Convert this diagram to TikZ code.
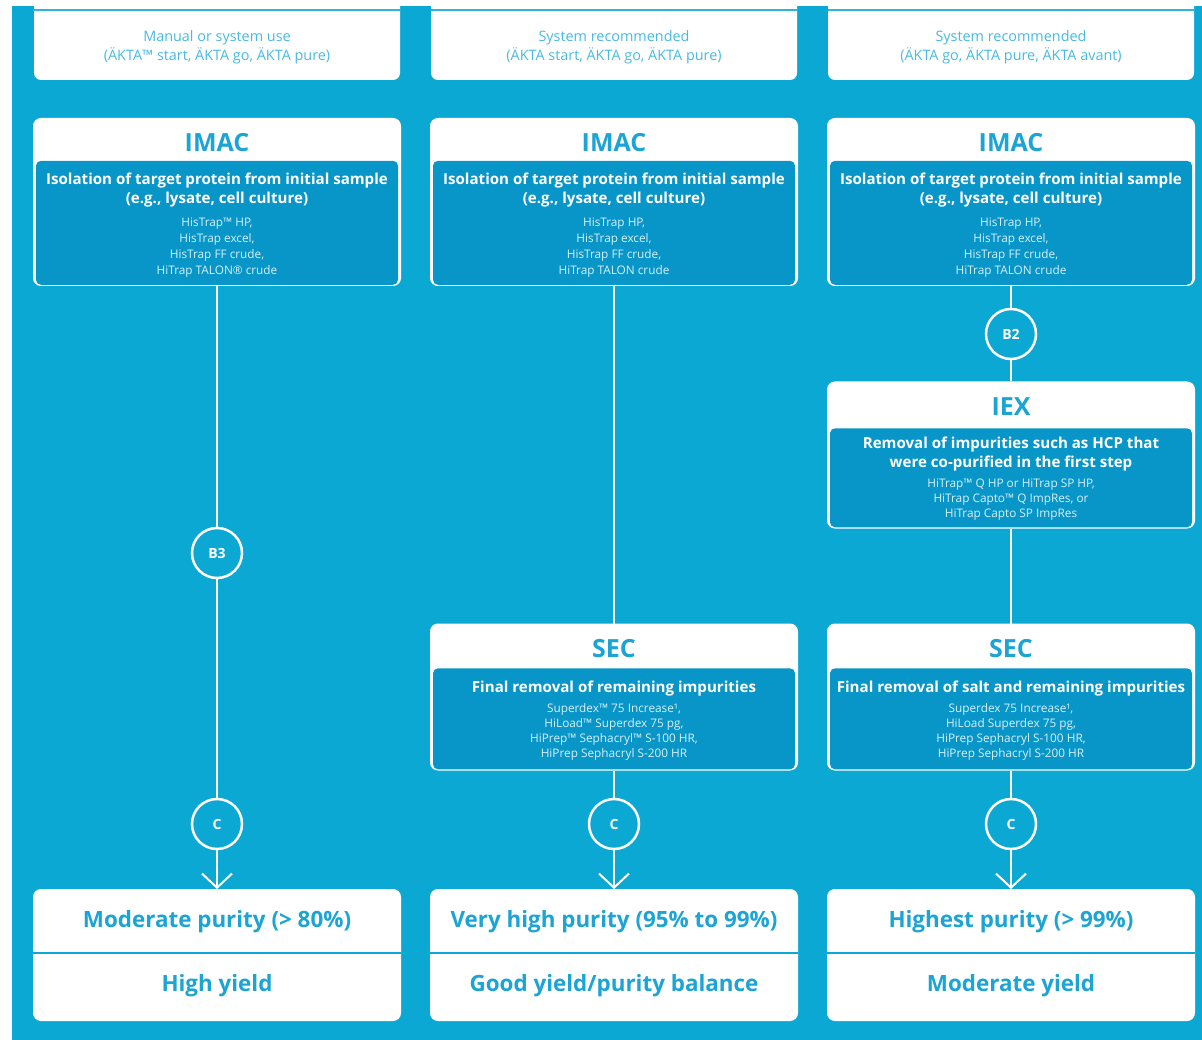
\documentclass[tikz,border=0pt]{standalone}
\usepackage{fontspec}
\setmainfont{Open Sans}
\usepackage{tikz}
\usetikzlibrary{arrows.meta,positioning}

\definecolor{bgblue}{RGB}{12,168,212}
\definecolor{bodyblue}{RGB}{8,150,200}
\definecolor{headblue}{RGB}{28,164,213}
\definecolor{topblue}{RGB}{72,186,226}
\definecolor{itemwhite}{RGB}{214,240,250}

\begin{document}
\begin{tikzpicture}[x=1pt, y=-1pt, >={Straight Barb[length=14pt, width=30pt]},
    card/.style={fill=white, draw=white, line width=2pt, rounded corners=7pt, minimum width=366pt, inner sep=0pt},
    panel/.style={fill=bodyblue, rounded corners=5pt, minimum width=362pt, inner sep=0pt},
    title/.style={font=\fontsize{25}{28}\selectfont\bfseries, text=headblue},
    lead/.style={font=\fontsize{15.1}{19}\selectfont\bfseries, text=white, align=center},
    items/.style={font=\fontsize{11.8}{16}\selectfont, text=itemwhite, align=center},
    usage/.style={font=\fontsize{14.4}{19}\selectfont, text=topblue, align=center},
    result/.style={font=\fontsize{22.4}{26}\selectfont\bfseries, text=headblue},
    badge/.style={circle, draw=white, line width=2.5pt, fill=bgblue, minimum size=50pt, inner sep=0pt, font=\fontsize{14}{16}\selectfont\bfseries, text=white},
    link/.style={draw=white, line width=2pt}]

    \useasboundingbox (0,0) rectangle (1202,1040);
    \fill[bgblue] (12,6) rectangle (1202,1040);

    % System boxes
    \node[card, draw=none, minimum height=90pt] (top1) at (217,35) {};
    \node[card, draw=none, minimum height=90pt] (top2) at (614,35) {};
    \node[card, draw=none, minimum height=90pt] (top3) at (1011,35) {};
    \draw[topblue!60!bgblue, line width=1.5pt] (33,10) -- (400,10) (431,10) -- (797,10) (828,10) -- (1194,10);
    \node[usage] (use1) at (217,47) {Manual or system use\\(ÄKTA™ start, ÄKTA go, ÄKTA pure)};
    \node[usage] (use2) at (614,47) {System recommended\\(ÄKTA start, ÄKTA go, ÄKTA pure)};
    \node[usage] (use3) at (1011,47) {System recommended\\(ÄKTA go, ÄKTA pure, ÄKTA avant)};

    % IMAC
    \node[card, minimum height=166pt] (imac1) at (217,202) {};
    \node[panel, minimum height=124pt, above=1pt of imac1.south] (imac1p) {};
    \node[title] (imac1t) at (217,143) {IMAC};
    \node[lead] (imac1d) at (217,190) {Isolation of target protein from initial sample\\(e.g., lysate, cell culture)};
    \node[items] (imac1l) at (217,248) {HisTrap™ HP,\\HisTrap excel,\\HisTrap FF crude,\\HiTrap TALON® crude};

    \node[card, minimum height=166pt] (imac2) at (614,202) {};
    \node[panel, minimum height=124pt, above=1pt of imac2.south] (imac2p) {};
    \node[title] (imac2t) at (614,143) {IMAC};
    \node[lead] (imac2d) at (614,190) {Isolation of target protein from initial sample\\(e.g., lysate, cell culture)};
    \node[items] (imac2l) at (614,248) {HisTrap HP,\\HisTrap excel,\\HisTrap FF crude,\\HiTrap TALON crude};

    \node[card, minimum height=166pt] (imac3) at (1011,202) {};
    \node[panel, minimum height=124pt, above=1pt of imac3.south] (imac3p) {};
    \node[title] (imac3t) at (1011,143) {IMAC};
    \node[lead] (imac3d) at (1011,190) {Isolation of target protein from initial sample\\(e.g., lysate, cell culture)};
    \node[items] (imac3l) at (1011,248) {HisTrap HP,\\HisTrap excel,\\HisTrap FF crude,\\HiTrap TALON crude};

    % IEX
    \node[card, minimum height=145pt] (iex3) at (1011,455) {};
    \node[panel, minimum height=99pt, above=1pt of iex3.south] (iex3p) {};
    \node[title] (iex3t) at (1011,407) {IEX};
    \node[lead] (iex3d) at (1011,454) {Removal of impurities such as HCP that\\were co-purified in the first step};
    \node[items, font=\fontsize{11.8}{15}\selectfont] (iex3l) at (1011,500) {HiTrap™ Q HP or HiTrap SP HP,\\HiTrap Capto™ Q ImpRes, or\\HiTrap Capto SP ImpRes};

    % SEC
    \node[card, minimum height=145pt] (sec2) at (614,697) {};
    \node[panel, minimum height=101pt, above=1pt of sec2.south] (sec2p) {};
    \node[title] (sec2t) at (614,649) {SEC};
    \node[lead] (sec2d) at (614,689) {Final removal of remaining impurities};
    \node[items, font=\fontsize{11.8}{15}\selectfont] (sec2l) at (614,732) {Superdex™ 75 Increase¹,\\HiLoad™ Superdex 75 pg,\\HiPrep™ Sephacryl™ S-100 HR,\\HiPrep Sephacryl S-200 HR};

    \node[card, minimum height=145pt] (sec3) at (1011,697) {};
    \node[panel, minimum height=101pt, above=1pt of sec3.south] (sec3p) {};
    \node[title] (sec3t) at (1011,649) {SEC};
    \node[lead] (sec3d) at (1011,689) {Final removal of salt and remaining impurities};
    \node[items, font=\fontsize{11.8}{15}\selectfont] (sec3l) at (1011,732) {Superdex 75 Increase¹,\\HiLoad Superdex 75 pg,\\HiPrep Sephacryl S-100 HR,\\HiPrep Sephacryl S-200 HR};

    % Results
    \node[card, minimum height=130pt] (res1) at (217,955) {};
    \node[card, minimum height=130pt] (res2) at (614,955) {};
    \node[card, minimum height=130pt] (res3) at (1011,955) {};
    \draw[bgblue, line width=2pt] (res1.west |- 0,953) -- (res1.east |- 0,953)
        (res2.west |- 0,953) -- (res2.east |- 0,953)
        (res3.west |- 0,953) -- (res3.east |- 0,953);
    \node[result] (pur1) at (217,922) {Moderate purity (> 80\%)};
    \node[result] (yld1) at (217,986) {High yield};
    \node[result] (pur2) at (614,922) {Very high purity (95\% to 99\%)};
    \node[result] (yld2) at (614,986) {Good yield/purity balance};
    \node[result] (pur3) at (1011,922) {Highest purity (> 99\%)};
    \node[result] (yld3) at (1011,986) {Moderate yield};

    % Badges
    \node[badge] (b3) at (217,553) {B3};
    \node[badge] (b2) at (1011,334) {B2};
    \node[badge] (c1) at (217,824) {C};
    \node[badge] (c2) at (614,824) {C};
    \node[badge] (c3) at (1011,824) {C};

    % Links
    \draw[link] (imac1) -- (b3);
    \draw[link] (b3) -- (c1);
    \draw[link, ->] (c1) -- (res1);
    \draw[link] (imac2) -- (sec2);
    \draw[link] (sec2) -- (c2);
    \draw[link, ->] (c2) -- (res2);
    \draw[link] (imac3) -- (b2);
    \draw[link] (b2) -- (iex3);
    \draw[link] (iex3) -- (sec3);
    \draw[link] (sec3) -- (c3);
    \draw[link, ->] (c3) -- (res3);
\end{tikzpicture}
\end{document}
